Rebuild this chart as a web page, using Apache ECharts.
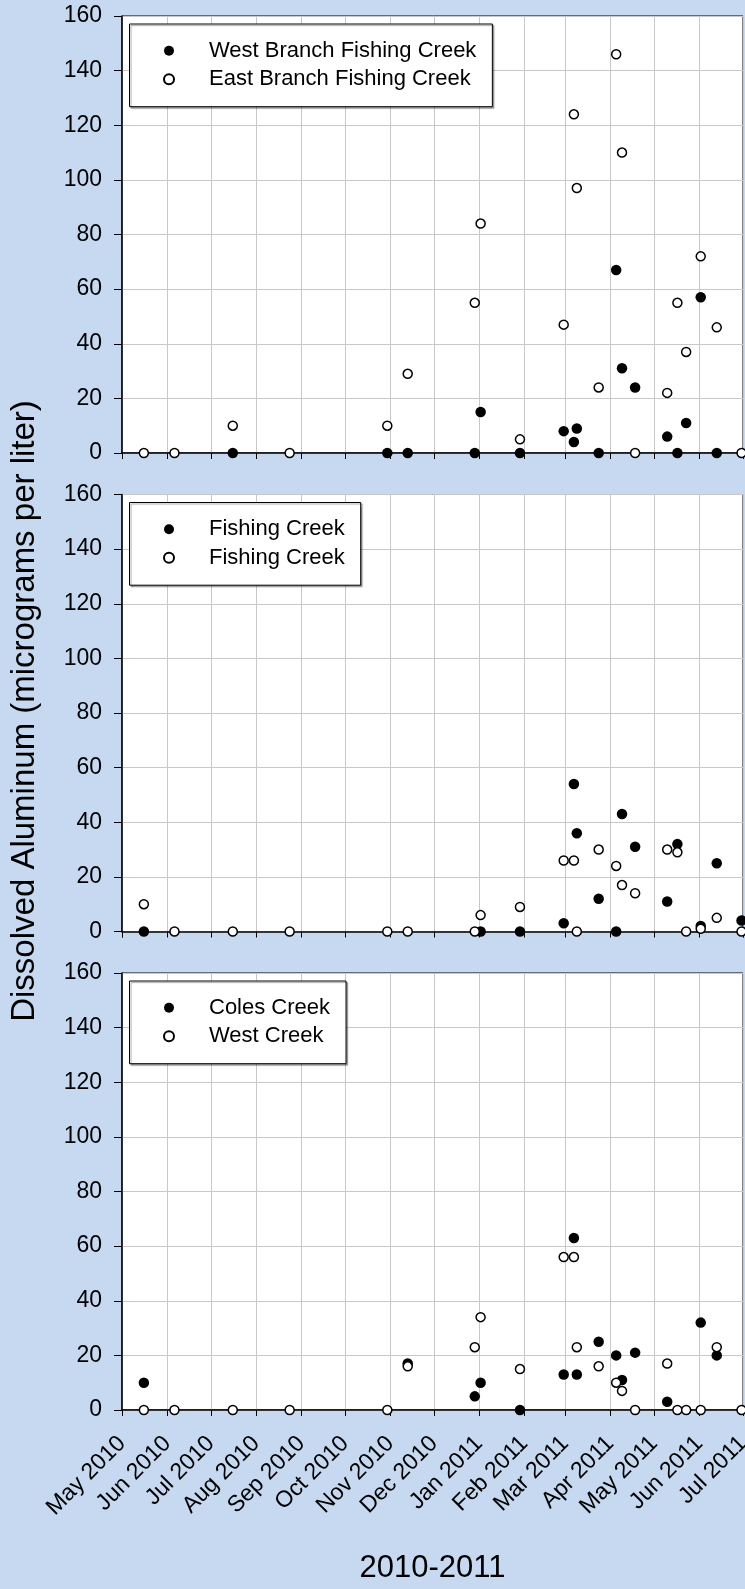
<!DOCTYPE html>
<html>
<head>
<meta charset="utf-8">
<script src="https://cdn.jsdelivr.net/npm/echarts@6/dist/echarts.min.js"></script>
<style>
  html, body { margin: 0; padding: 0; background: #c6d9f1; }
  #chart { width: 745px; height: 1589px; }
</style>
</head>
<body>
<div id="chart"></div>
<script>
// Sampling dates shared by all sites
const sampleDates = [
  '2010-05-16', '2010-06-06', '2010-07-16', '2010-08-24', '2010-10-30', '2010-11-13',
  '2010-12-29', '2011-01-02', '2011-01-29', '2011-02-28', '2011-03-07', '2011-03-09',
  '2011-03-24', '2011-04-05', '2011-04-09', '2011-04-18', '2011-05-10', '2011-05-17',
  '2011-05-23', '2011-06-02', '2011-06-13', '2011-06-30'
];

// Dissolved aluminum, micrograms per liter (null = no sample)
const westBranch = [null, null, 0, null, 0, 0, 0, 15, 0, 8, 4, 9, 0, 67, 31, 24, 6, 0, 11, 57, 0, null];
const eastBranch = [0, 0, 10, 0, 10, 29, 55, 84, 5, 47, 124, 97, 24, 146, 110, 0, 22, 55, 37, 72, 46, 0];

const fishingCreekA = [0, null, null, null, null, null, null, 0, 0, 3, 54, 36, 12, 0, 43, 31, 11, 32, null, 2, 25, 4];
const fishingCreekB = [10, 0, 0, 0, 0, 0, 0, 6, 9, 26, 26, 0, 30, 24, 17, 14, 30, 29, 0, 1, 5, 0];

const colesCreek = [10, null, null, null, null, 17, 5, 10, 0, 13, 63, 13, 25, 20, 11, 21, 3, null, null, 32, 20, null];
const westCreek = [0, 0, 0, 0, 0, 16, 23, 34, 15, 56, 56, 23, 16, 10, 7, 0, 17, 0, 0, 0, 23, 0];

// Month tick labels along the shared date axis
const tickLabels = [
  'May 2010', 'Jun 2010', 'Jul 2010', 'Aug 2010', 'Sep 2010', 'Oct 2010', 'Nov 2010',
  'Dec 2010', 'Jan 2011', 'Feb 2011', 'Mar 2011', 'Apr 2011', 'May 2011', 'Jun 2011', 'Jul 2011'
];

const yMin = 0, yMax = 160, yStep = 20;

// Two sites per panel: first drawn filled, second drawn open
const panels = [
  { names: ['West Branch Fishing Creek', 'East Branch Fishing Creek'], values: [westBranch, eastBranch] },
  { names: ['Fishing Creek', 'Fishing Creek '], values: [fishingCreekA, fishingCreekB] },
  { names: ['Coles Creek', 'West Creek'], values: [colesCreek, westCreek] }
];

const textFont = "'Liberation Sans', Arial, Helvetica, sans-serif";

const axisStart = new Date(2010, 4, 1).getTime();
const axisEnd = new Date(2011, 6, 1).getTime();
const DAY = 86400000;

const panelTops = [16, 494.5, 973];
const panelHeight = 437;
const plotLeft = 122;
const plotRight = 2;

function pairs(values) {
  const out = [];
  values.forEach((v, i) => { if (v !== null) out.push([sampleDates[i], v]); });
  return out;
}

function monthLabel(value) {
  const d = new Date(value);
  const idx = (d.getFullYear() - 2010) * 12 + d.getMonth() - 4;
  return tickLabels[idx] || '';
}

const grids = panelTops.map(top => ({
  left: plotLeft, right: plotRight, top: top, height: panelHeight,
  show: true, backgroundColor: '#ffffff', borderColor: '#000000', borderWidth: 1,
  containLabel: false, outerBoundsMode: 'none'
}));

const xAxes = panelTops.map((top, i) => ({
  type: 'time', gridIndex: i, min: axisStart, max: axisEnd,
  splitNumber: 14, minInterval: 28 * DAY, maxInterval: 31 * DAY,
  axisLine: { show: true, onZero: false, lineStyle: { color: '#000000', width: 1.5 } },
  axisTick: { show: true, inside: false, length: 6, lineStyle: { color: '#000000', width: 1 } },
  splitLine: { show: true, lineStyle: { color: '#c8c8c8', width: 1 } },
  minorTick: { show: false }, minorSplitLine: { show: false },
  axisLabel: {
    show: i === 2, rotate: 45, margin: 30, formatter: monthLabel,
    fontFamily: textFont, fontSize: 23, color: '#000000',
    showMinLabel: true, showMaxLabel: true, hideOverlap: false, interval: 0
  },
  name: i === 2 ? '2010-2011' : '', nameLocation: 'middle', nameGap: 143,
  nameTextStyle: { fontFamily: textFont, fontSize: 31, color: '#000000' }
}));

const yAxes = panelTops.map((top, i) => ({
  type: 'value', gridIndex: i, min: yMin, max: yMax, interval: yStep,
  axisLine: { show: true, lineStyle: { color: '#000000', width: 1.5 } },
  axisTick: { show: true, inside: false, length: 8, lineStyle: { color: '#000000', width: 1 } },
  splitLine: { show: true, lineStyle: { color: '#c8c8c8', width: 1 } },
  axisLabel: { margin: 20, fontFamily: textFont, fontSize: 23, color: '#000000' }
}));

const legends = panels.map((p, i) => ({
  data: p.names, orient: 'vertical',
  left: 129.5, top: panelTops[i] + 8,
  padding: [14.7, 16, 15.4, 33.5], itemGap: 4.6,
  itemWidth: 10, itemHeight: 10,
  backgroundColor: '#ffffff', borderColor: '#000000', borderWidth: 1,
  shadowColor: 'rgba(0,0,0,0.35)', shadowBlur: 1, shadowOffsetX: 1.5, shadowOffsetY: 1.5,
  selectedMode: false,
  formatter: name => name.trim(),
  textStyle: {
    fontFamily: textFont, fontSize: 22, color: '#000000',
    lineHeight: 24, padding: [0, 0, 0, 30]
  }
}));

const series = [];
panels.forEach((p, i) => {
  series.push({
    name: p.names[0], type: 'scatter', xAxisIndex: i, yAxisIndex: i,
    data: pairs(p.values[0]), symbol: 'circle', symbolSize: 10.5, clip: false,
    itemStyle: { color: '#000000', borderColor: '#000000', borderWidth: 0, opacity: 1 },
    emphasis: { disabled: true }
  });
  series.push({
    name: p.names[1], type: 'scatter', xAxisIndex: i, yAxisIndex: i,
    data: pairs(p.values[1]), symbol: 'circle', symbolSize: 9, clip: false,
    itemStyle: { color: '#ffffff', borderColor: '#000000', borderWidth: 1.5, opacity: 1 },
    emphasis: { disabled: true }
  });
});

const chart = echarts.init(document.getElementById('chart'), null, { renderer: 'canvas' });
chart.setOption({
  backgroundColor: '#c6d9f1',
  animation: false,
  grid: grids,
  xAxis: xAxes,
  yAxis: yAxes,
  legend: legends,
  series: series,
  graphic: [{
    type: 'text', x: 25, y: 711, rotation: Math.PI / 2,
    style: {
      text: 'Dissolved Aluminum (micrograms per liter)',
      fontFamily: textFont, fontSize: 33, fill: '#000000',
      textAlign: 'center', textVerticalAlign: 'middle'
    }
  }]
});
</script>
</body>
</html>
